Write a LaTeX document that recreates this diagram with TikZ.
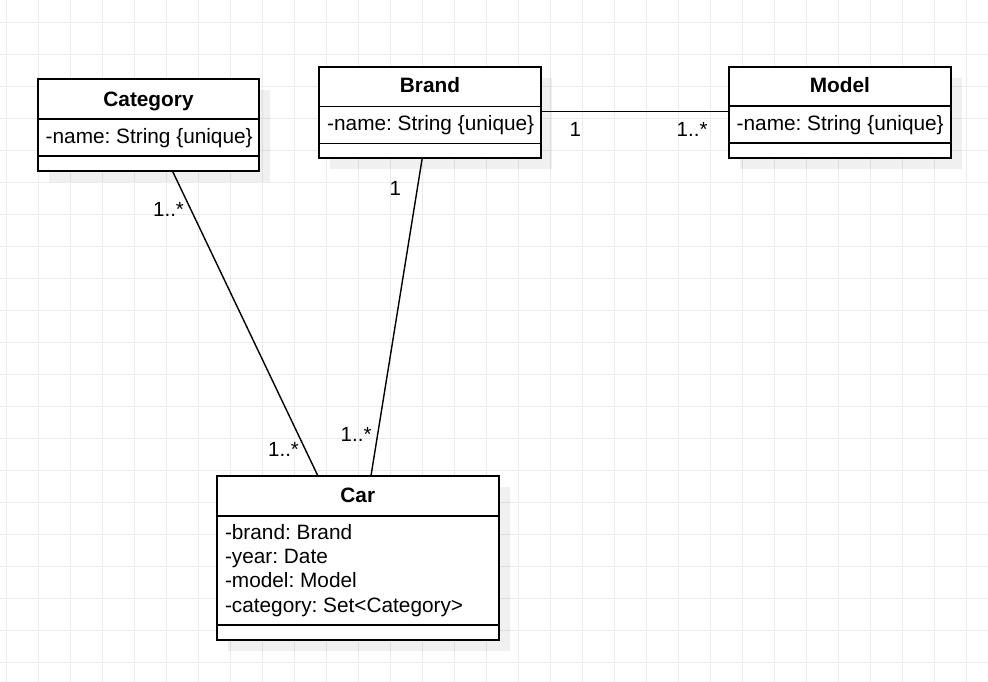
\documentclass[tikz,border=0pt]{standalone}
\usepackage{fontspec}
\setmainfont{Liberation Sans}
\frenchspacing
\definecolor{gridc}{RGB}{235,235,235}
\tikzset{
  umlbox/.style={draw=black, line width=1.8pt, fill=white, inner sep=0pt, outer sep=0pt, anchor=north west},
  shadowbox/.style={fill=black, fill opacity=0.06, draw=none},
  sepline/.style={draw=black, line width=1.8pt},
  classtitle/.style={font=\frenchspacing\bfseries\fontsize{20.8pt}{25pt}\selectfont, inner sep=0pt, anchor=base},
  attrtext/.style={font=\frenchspacing\fontsize{20.8pt}{25pt}\selectfont, inner sep=0pt, anchor=base west},
  multtext/.style={font=\frenchspacing\fontsize{20.5pt}{25pt}\selectfont, inner sep=0pt, anchor=base west},
  assoc/.style={draw=black, line width=1.4pt},
}
\begin{document}
\begin{tikzpicture}[x=1pt, y=-1pt]
\useasboundingbox (0,0) rectangle (988,682);
\fill[white] (0,0) rectangle (988,682);
% grid
\foreach \k in {0,...,30} { \draw[gridc, line width=1pt] ({6.3+32*\k},0) -- ({6.3+32*\k},682); }
\foreach \k in {0,...,20} { \draw[gridc, line width=1pt] (0,{22.3+32*\k}) -- (988,{22.3+32*\k}); }
% shadows
\path[shadowbox] (48.7,90.3) rectangle (270.3,181.7);
\path[shadowbox] (330.3,77.7) rectangle (551.7,168.7);
\path[shadowbox] (740,77.7) rectangle (961.7,168.7);
\path[shadowbox] (227.7,486.7) rectangle (510,651);
% boxes
\node[umlbox, minimum width=221.6pt, minimum height=91.4pt] (cat) at (37.7,79.3) {};
\node[umlbox, minimum width=221.4pt, minimum height=91pt] (brand) at (319.3,66.7) {};
\node[umlbox, minimum width=221.7pt, minimum height=91pt] (model) at (729,66.7) {};
\node[umlbox, minimum width=282.3pt, minimum height=164.3pt] (car) at (216.7,475.7) {};
% separators
\draw[sepline] (37.7,119) -- (259.3,119);
\draw[sepline] (37.7,156) -- (259.3,156);
\draw[sepline] (319.3,106.5) -- (540.7,106.5);
\draw[sepline] (319.3,143.5) -- (540.7,143.5);
\draw[sepline] (729,106.3) -- (950.7,106.3);
\draw[sepline] (729,143.3) -- (950.7,143.3);
\draw[sepline] (216.7,516) -- (499,516);
\draw[sepline] (216.7,625) -- (499,625);
% titles
\node[classtitle] (catT) at (148.5,106.5) {Category};
\node[classtitle] (brandT) at (430,92.8) {Brand};
\node[classtitle] (modelT) at (839.8,93) {Model};
\node[classtitle] (carT) at (357.8,502.7) {Car};
% attributes
\node[attrtext] (catA) at (45.5,143.2) {-name: String \{unique\}};
\node[attrtext] (brandA) at (327,130.3) {-name: String \{unique\}};
\node[attrtext] (modelA) at (736.5,130.5) {-name: String \{unique\}};
\node[attrtext] (carA1) at (224.8,539.5) {-brand: Brand};
\node[attrtext] (carA2) at (224.8,563.7) {-year: Date};
\node[attrtext] (carA3) at (224.8,587.9) {-model: Model};
\node[attrtext] (carA4) at (224.8,612) {-category: Set<Category>};
% connector end points
\coordinate (catS) at (172.3,170.7);
\coordinate (carN1) at (317.8,475.7);
\coordinate (brandS) at (422.3,157.7);
\coordinate (carN2) at (371,475.7);
\coordinate (brandE) at (540.7,111.8);
\coordinate (modelW) at (729,111.8);
% connectors
\draw[assoc] (brandE) -- (modelW);
\draw[assoc] (catS) -- (carN1);
\draw[assoc] (brandS) -- (carN2);
% multiplicities
\node[multtext] (m1) at (569.5,136.7) {1};
\node[multtext] (m2) at (676.5,136.7) {1..*};
\node[multtext] (m3) at (153,216.7) {1..*};
\node[multtext] (m4) at (389.5,195) {1};
\node[multtext] (m5) at (268,456) {1..*};
\node[multtext] (m6) at (340.5,441.7) {1..*};
\end{tikzpicture}
\end{document}
